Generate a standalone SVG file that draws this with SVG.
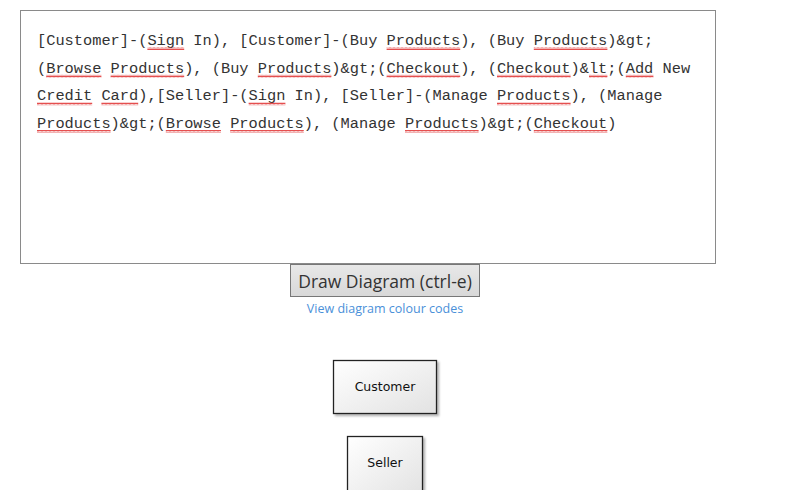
<svg xmlns="http://www.w3.org/2000/svg" width="786" height="490" viewBox="0 0 786 490">
<style>
.code{font-family:"Liberation Mono","Courier New",monospace;font-size:15.33px;fill:#333333}
.node{fill:url(#ng);stroke:#222222;stroke-width:1.3}
.nlabel{font-family:"DejaVu Sans",sans-serif;font-size:12.5px;fill:#111111;text-anchor:middle}
</style>
<defs>
<linearGradient id="ng" x1="0" y1="0" x2="1" y2="1">
<stop offset="0" stop-color="#ffffff"/>
<stop offset="1" stop-color="#e2e2e2"/>
</linearGradient>
<linearGradient id="bg" x1="0" y1="0" x2="0" y2="1">
<stop offset="0" stop-color="#e8e8e8"/>
<stop offset="1" stop-color="#d8d8d8"/>
</linearGradient>
<filter id="sh" x="-20%" y="-20%" width="150%" height="150%">
<feDropShadow dx="2" dy="2" stdDeviation="1.2" flood-color="#000" flood-opacity="0.3"/>
</filter>
<pattern id="wave" x="0" y="0" width="4" height="3" patternUnits="userSpaceOnUse">
<path d="M0,2.5 L1,0.5 L2,2.5 M2,2.5 L3,0.5 L4,2.5" fill="none" stroke="#e23b3b" stroke-width="0.9"/>
</pattern>
</defs>
<rect x="0" y="0" width="786" height="490" fill="#ffffff"/>
<g id="editor">
<rect x="20.5" y="10.5" width="695" height="253" fill="#ffffff" stroke="#8a8a8a" stroke-width="1"/>
<text class="code" x="37" y="45">[Customer]-(Sign In), [Customer]-(Buy Products), (Buy Products)&amp;gt;</text>
<text class="code" x="37" y="72.7">(Browse Products), (Buy Products)&amp;gt;(Checkout), (Checkout)&amp;lt;(Add New</text>
<text class="code" x="37" y="100.4">Credit Card),[Seller]-(Sign In), [Seller]-(Manage Products), (Manage</text>
<text class="code" x="37" y="128">Products)&amp;gt;(Browse Products), (Manage Products)&amp;gt;(Checkout)</text>
<g id="spellcheck" fill="url(#wave)">
<rect x="147.4" y="47" width="36.8" height="3"/>
<rect x="386.6" y="47" width="73.6" height="3"/>
<rect x="533.8" y="47" width="73.6" height="3"/>
<rect x="46.2" y="74.7" width="55.2" height="3"/>
<rect x="110.6" y="74.7" width="73.6" height="3"/>
<rect x="257.8" y="74.7" width="73.6" height="3"/>
<rect x="386.6" y="74.7" width="73.6" height="3"/>
<rect x="497" y="74.7" width="73.6" height="3"/>
<rect x="589" y="74.7" width="18.4" height="3"/>
<rect x="625.8" y="74.7" width="27.6" height="3"/>
<rect x="37" y="102.4" width="55.2" height="3"/>
<rect x="101.4" y="102.4" width="36.8" height="3"/>
<rect x="248.6" y="102.4" width="36.8" height="3"/>
<rect x="497" y="102.4" width="73.6" height="3"/>
<rect x="37" y="130" width="73.6" height="3"/>
<rect x="165.8" y="130" width="55.2" height="3"/>
<rect x="230.2" y="130" width="73.6" height="3"/>
<rect x="405" y="130" width="73.6" height="3"/>
<rect x="533.8" y="130" width="73.6" height="3"/>
</g>
</g>
<g id="button">
<rect x="290.5" y="264.5" width="189" height="32" fill="url(#bg)" stroke="#777777" stroke-width="1"/>
<text x="385" y="287.5" font-family="'Open Sans','Noto Sans',sans-serif" font-size="17.5px" fill="#333333" text-anchor="middle">Draw Diagram (ctrl-e)</text>
</g>
<g id="link">
<text x="385" y="313" font-family="'Open Sans','Noto Sans',sans-serif" font-size="12.5px" fill="#4a90d9" text-anchor="middle">View diagram colour codes</text>
</g>
<g id="connectors"></g>
<g id="node-customer">
<rect class="node" x="333.5" y="360.5" width="103" height="53" filter="url(#sh)"/>
<text class="nlabel" x="385" y="390.5">Customer</text>
</g>
<g id="node-seller">
<rect class="node" x="347.5" y="436.5" width="75" height="60" filter="url(#sh)"/>
<text class="nlabel" x="385" y="466.5">Seller</text>
</g>
</svg>
